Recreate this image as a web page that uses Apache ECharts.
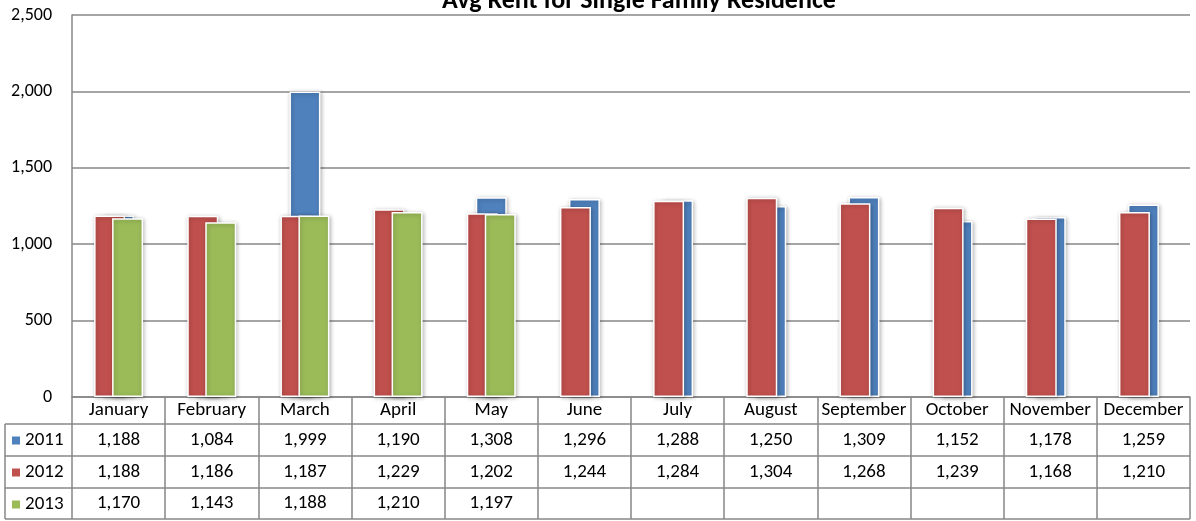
<!DOCTYPE html>
<html>
<head>
<meta charset="utf-8">
<script src="https://cdn.jsdelivr.net/npm/echarts@6/dist/echarts.min.js"></script>
<style>
html,body{margin:0;padding:0;background:#fff;}
#chart{width:1196px;height:521px;}
</style>
</head>
<body>
<div id="chart"></div>
<script>
const months = ['January','February','March','April','May','June','July','August','September','October','November','December'];
const years = ['2011','2012','2013'];
const rent2011 = [1188,1084,1999,1190,1308,1296,1288,1250,1309,1152,1178,1259];
const rent2012 = [1188,1186,1187,1229,1202,1244,1284,1304,1268,1239,1168,1210];
const rent2013 = [1170,1143,1188,1210,1197];
const yTicks = {min:0, max:2500, interval:500};

const FONT = 'Carlito, Lato, "Open Sans", sans-serif';
const GRAY = '#878787';
const TFS = 19;
const fmt = v => (v === undefined || v === null) ? '' : v.toLocaleString('en-US');

const chart = echarts.init(document.getElementById('chart'));

function rowAxis(arr, margin){
  return {
    type:'category', data:months, gridIndex:0, position:'bottom',
    axisLine:{show:false}, axisTick:{show:false}, splitLine:{show:false},
    axisLabel:{interval:0, margin:margin, verticalAlign:'middle', fontSize:TFS, color:'#000', fontFamily:FONT,
      formatter:(v, i) => fmt(arr[i])}
  };
}

const barStyle = c => ({color:c, borderColor:'#fff', borderWidth:1.5,
  shadowColor:'rgba(0,0,0,0.28)', shadowBlur:4, shadowOffsetX:1, shadowOffsetY:1});

const tableY = [424, 456, 488, 519];
const graphics = tableY.map(y => ({type:'line', shape:{x1:5, y1:y, x2:1190, y2:y}, style:{stroke:GRAY, lineWidth:1.5}}));
graphics.push({type:'line', shape:{x1:5, y1:424, x2:5, y2:519}, style:{stroke:GRAY, lineWidth:1.5}});

chart.setOption({
  animation:false,
  backgroundColor:'#fff',
  title:{text:'Avg Rent for Single Family Residence', left:634, textAlign:'center', top:-17,
    textStyle:{fontSize:26, fontWeight:'bold', color:'#000', fontFamily:FONT}},
  grid:{left:72, right:6, top:15, bottom:124, containLabel:false},
  legend:{orient:'vertical', left:12, top:431, itemWidth:8, itemHeight:8, itemGap:13, icon:'rect', padding:0,
    data:years, selectedMode:false,
    itemStyle:{borderWidth:0, shadowBlur:0},
    textStyle:{fontSize:TFS, lineHeight:19, color:'#000', fontFamily:FONT}},
  xAxis:[
    {type:'category', data:months, gridIndex:0, position:'bottom',
     axisLine:{show:true, lineStyle:{color:GRAY, width:1.5}},
     axisTick:{show:true, interval:0, length:122, lineStyle:{color:GRAY, width:1.5}},
     axisLabel:{interval:0, margin:13.5, verticalAlign:'middle', fontSize:TFS, color:'#000', fontFamily:FONT}},
    rowAxis(rent2011, 43),
    rowAxis(rent2012, 75),
    rowAxis(rent2013, 106.5)
  ],
  yAxis:{type:'value', min:yTicks.min, max:yTicks.max, interval:yTicks.interval,
    axisLine:{show:true, lineStyle:{color:GRAY, width:1.5}},
    axisTick:{show:false},
    splitLine:{show:true, lineStyle:{color:GRAY, width:1.5}},
    axisLabel:{margin:20, fontSize:18, color:'#000', fontFamily:FONT, formatter:v => fmt(v)}},
  series:[
    {name:'2012', type:'bar', xAxisIndex:0, data:rent2012, barWidth:31, barGap:'-71%', z:3, itemStyle:barStyle('#C0504D')},
    {name:'2011', type:'bar', xAxisIndex:0, data:rent2011, barWidth:31, barGap:'-71%', z:2, itemStyle:barStyle('#4F81BD')},
    {name:'2013', type:'bar', xAxisIndex:0, data:rent2013, barWidth:31, barGap:'-71%', z:4, itemStyle:barStyle('#9BBB59')}
  ],
  graphic:graphics
});
</script>
</body>
</html>
